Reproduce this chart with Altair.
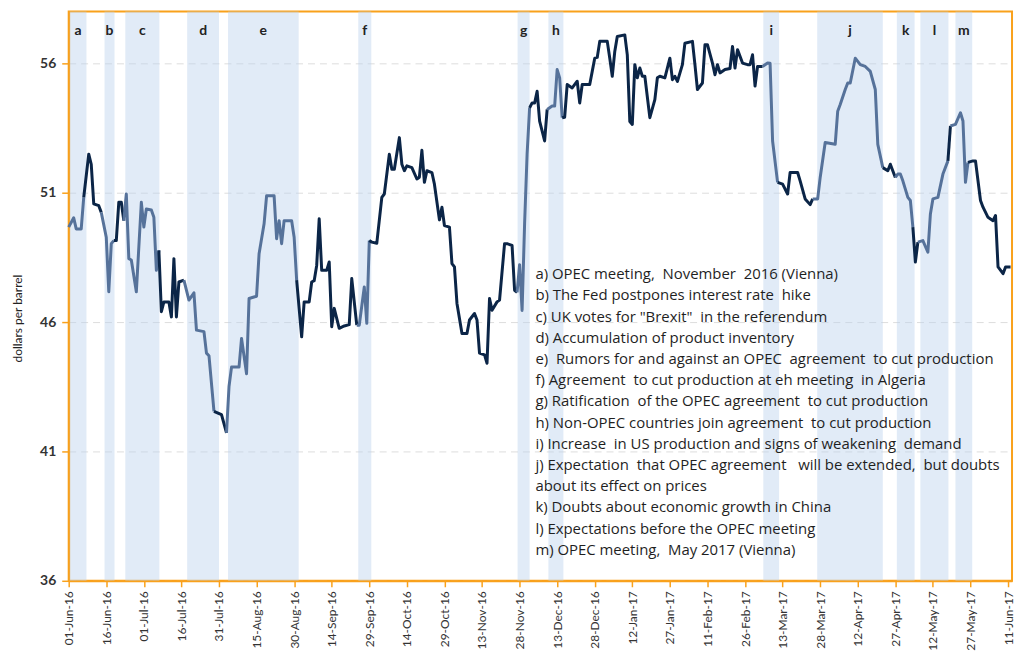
import altair as alt
import pandas as pd

START = pd.Timestamp("2016-06-01")

# Oil price: days after 01-Jun-16 and dollars per barrel
DAYS = [0, 2, 3, 5, 6, 8, 9, 10, 12, 13, 15, 16, 17, 18, 19, 20, 21, 22, 23, 24, 25, 27, 29, 30, 31, 33, 34, 35, 36, 37,
        38, 40, 41, 42, 43, 44, 46, 48, 50, 51, 54, 55, 56, 58, 61, 63, 64, 65, 68, 69, 71, 72, 75, 76, 78, 79, 82, 83, 84, 85,
        86, 89, 90, 91, 93, 94, 96, 97, 98, 99, 100, 101, 103, 104, 105, 106, 108, 110, 112, 113, 115, 116, 118, 119, 120, 121, 123, 125, 126, 128,
        129, 130, 132, 133, 134, 135, 137, 139, 140, 141, 142, 143, 145, 146, 148, 149, 150, 152, 153, 154, 155, 157, 159, 160, 162, 163, 164, 166, 167, 168,
        169, 171, 172, 174, 175, 177, 178, 179, 180, 181, 182, 183, 184, 185, 186, 187, 188, 190, 191, 193, 194, 195, 196, 197, 198, 199, 201, 203, 204, 205,
        208, 209, 210, 211, 212, 215, 216, 217, 218, 219, 222, 223, 224, 225, 226, 227, 228, 229, 230, 232, 234, 235, 236, 238, 240, 241, 242, 243, 245, 246,
        249, 250, 251, 253, 254, 255, 257, 258, 259, 260, 262, 264, 265, 266, 267, 269, 271, 272, 273, 274, 275, 277, 279, 280, 281, 283, 285, 287, 288, 291,
        292, 294, 296, 297, 299, 300, 302, 306, 307, 308, 310, 311, 312, 314, 316, 318, 320, 322, 323, 325, 327, 328, 330, 331, 332, 333, 335, 336, 337, 338,
        339, 341, 343, 344, 345, 347, 349, 351, 352, 354, 356, 357, 358, 359, 361, 362, 364, 365, 367, 369, 370, 371, 373, 374, 376]
PRICES = [49.67, 50.03, 49.6, 49.6, 50.82, 52.49, 52.1, 50.57, 50.5, 50.24, 49.28, 47.17, 49.03, 49.15, 49.15, 50.63, 50.63, 49.92, 50.95, 48.45, 48.4, 47.17, 50.63, 49.67, 50.37, 50.33, 50.05, 48.0, 48.77, 46.4,
          46.78, 46.78, 46.2, 48.45, 46.2, 47.55, 47.62, 46.85, 47.13, 45.69, 45.63, 44.8, 44.7, 42.55, 42.42, 41.72, 43.51, 44.26, 44.26, 45.37, 44.0, 46.91, 47.0, 48.64, 49.8, 50.88, 50.88, 49.22, 49.92, 49.03,
          49.92, 49.92, 49.28, 47.62, 45.43, 46.78, 46.78, 47.55, 47.6, 48.19, 49.99, 48.0, 48.0, 48.32, 45.82, 46.53, 45.76, 45.85, 45.9, 47.68, 45.88, 45.88, 47.36, 45.95, 49.15, 49.09, 49.05, 50.82, 50.95, 52.49,
          51.91, 51.91, 53.13, 52.1, 51.85, 52.04, 51.97, 51.53, 51.6, 52.64, 51.4, 51.85, 51.78, 51.33, 49.95, 50.44, 49.73, 49.67, 48.26, 48.13, 46.72, 45.56, 45.56, 46.08, 46.33, 46.08, 44.8, 44.73, 44.41, 46.91,
          46.46, 46.78, 46.85, 49.03, 49.03, 48.96, 47.23, 47.15, 48.22, 46.45, 49.8, 52.49, 54.28, 54.47, 54.47, 54.92, 53.77, 53.0, 54.22, 54.35, 54.35, 55.76, 55.44, 53.9, 53.92, 55.18, 55.05, 55.31, 54.47, 55.18,
          55.18, 55.69, 56.2, 56.23, 56.85, 56.85, 56.2, 55.5, 56.46, 57.04, 57.1, 56.33, 53.75, 53.64, 55.95, 55.44, 55.82, 55.5, 55.5, 53.9, 54.6, 55.44, 55.5, 55.44, 56.2, 55.37, 55.5, 55.3, 55.95, 56.78,
          56.85, 55.95, 54.99, 55.24, 56.72, 56.72, 56.01, 55.56, 55.95, 55.63, 55.76, 55.8, 56.65, 55.82, 56.53, 56.01, 55.95, 55.95, 56.33, 55.12, 55.88, 55.88, 56.01, 56.0, 53.0, 51.4, 51.33, 50.95, 51.78, 51.78,
          51.46, 50.76, 50.54, 50.76, 50.76, 51.59, 52.94, 52.87, 54.15, 54.41, 54.99, 55.24, 55.24, 56.2, 55.95, 55.88, 55.69, 54.99, 52.87, 51.97, 51.85, 52.1, 51.59, 51.72, 51.72, 51.46, 50.82, 50.7, 49.67, 48.32,
          49.09, 49.15, 48.7, 50.18, 50.76, 50.82, 51.72, 52.23, 53.58, 53.64, 54.09, 53.77, 51.4, 52.17, 52.23, 52.23, 50.7, 50.44, 50.05, 49.92, 50.12, 48.13, 47.87, 48.13, 48.13]

# Event windows (days after 01-Jun-16)
BAND_LABELS = ["a", "b", "c", "d", "e", "f", "g", "h", "i", "j", "k", "l", "m"]
BAND_START = [0.4, 14.3, 22.6, 47.3, 63.6, 115.6, 179.2, 191.5, 277.3, 298.8, 330.6, 340.0, 354.0]
BAND_END = [7.1, 18.3, 36.2, 60.0, 91.8, 120.8, 184.0, 197.5, 283.6, 325.0, 337.7, 351.2, 360.7]

LEGEND_LINES = [
    "a) OPEC meeting,  November  2016 (Vienna)",
    "b) The Fed postpones interest rate  hike",
    "c) UK votes for \"Brexit\"  in the referendum",
    "d) Accumulation of product inventory",
    "e)  Rumors for and against an OPEC  agreement  to cut production",
    "f) Agreement  to cut production at eh meeting  in Algeria",
    "g) Ratification  of the OPEC agreement  to cut production",
    "h) Non-OPEC countries join agreement  to cut production",
    "i) Increase  in US production and signs of weakening  demand",
    "j) Expectation  that OPEC agreement   will be extended,  but doubts",
    "about its effect on prices",
    "k) Doubts about economic growth in China",
    "l) Expectations before the OPEC meeting",
    "m) OPEC meeting,  May 2017 (Vienna)",
]

TICK_DATES = ["2016-06-01", "2016-06-16", "2016-07-01", "2016-07-16", "2016-07-31", "2016-08-15", "2016-08-30",
              "2016-09-14", "2016-09-29", "2016-10-14", "2016-10-29", "2016-11-13", "2016-11-28", "2016-12-13",
              "2016-12-28", "2017-01-12", "2017-01-27", "2017-02-11", "2017-02-26", "2017-03-13", "2017-03-28",
              "2017-04-12", "2017-04-27", "2017-05-12", "2017-05-27", "2017-06-11"]

DARK = "#0b2547"
LIGHT = "#56729a"
ORANGE = "#f9a11b"


def to_ts(d):
    return START + pd.to_timedelta(d, unit="D")


def in_band(d):
    return any(s <= d <= e for s, e in zip(BAND_START, BAND_END))


rows = []
seg = 0
prev = None
for d, v in zip(DAYS, PRICES):
    k = "event" if in_band(d) else "normal"
    if prev is not None and k != prev[2]:
        seg += 1
        rows.append({"date": to_ts(prev[0]), "price": prev[1], "kind": k, "seg": seg})
    rows.append({"date": to_ts(d), "price": v, "kind": k, "seg": seg})
    prev = (d, v, k)
line_df = pd.DataFrame(rows)

band_df = pd.DataFrame({
    "label": BAND_LABELS,
    "start": [to_ts(s) for s in BAND_START],
    "end": [to_ts(e) for e in BAND_END],
    "mid": [to_ts((s + e) / 2) for s, e in zip(BAND_START, BAND_END)],
})

# doubled spaces kept visible with no-break spaces (SVG collapses plain runs of spaces)
legend_df = pd.DataFrame({"txt": ["\n".join(s.replace("  ", " \u00a0") for s in LEGEND_LINES)]})


def dt(s):
    t = pd.Timestamp(s)
    return alt.DateTime(year=t.year, month=t.month, date=t.day, hours=t.hour)


xscale = alt.Scale(domain=[dt("2016-06-01"), dt("2017-06-12 14:00")])
yscale = alt.Scale(domain=[36, 58], nice=False, zero=False)

xaxis = alt.Axis(values=[dt(s) for s in TICK_DATES], tickCount=60, format="%d-%b-%y", labelAngle=270,
                 labelAlign="right", labelBaseline="middle", labelFontSize=12, labelColor="#333333",
                 labelFont="Lato", tickSize=6, labelPadding=4, grid=False, title=None, labelOverlap=False)
yaxis = alt.Axis(values=[36, 41, 46, 51, 56], grid=True, gridDash=[7, 5], gridColor="#dddddd",
                 tickSize=7, labelFontSize=14, labelFontWeight="bold", labelColor="#333333", labelFont="Lato",
                 labelPadding=6, title="dollars per barrel", titleFontSize=12, titleFontWeight="normal",
                 titleColor="#222222", titleFont="Lato", titleX=-51, titleY=308, titleAngle=270,
                 titleBaseline="middle", titleAlign="center")

bands = alt.Chart(band_df).mark_rect(color="#bcd2ee", opacity=0.45).encode(
    x=alt.X("start:T", scale=xscale, axis=xaxis),
    x2="end:T",
    y=alt.datum(36, type="quantitative", scale=yscale, axis=yaxis),
    y2=alt.datum(58),
)

band_text = alt.Chart(band_df).mark_text(fontSize=14, fontWeight="bold", color="#222222", font="Lato",
                                         baseline="middle").encode(
    x="mid:T",
    y=alt.value(19),
    text="label:N",
)

line = alt.Chart(line_df).mark_line(strokeWidth=3, strokeJoin="round").encode(
    x=alt.X("date:T"),
    y=alt.Y("price:Q"),
    color=alt.Color("kind:N", scale=alt.Scale(domain=["normal", "event"], range=[DARK, LIGHT]), legend=None),
    detail="seg:N",
)

legend_text = alt.Chart(legend_df).mark_text(align="left", baseline="top", lineBreak="\n", lineHeight=21.3,
                                             fontSize=15, font="Open Sans", color="#1f1f1f").encode(
    x=alt.value(469),
    y=alt.value(257),
    text="txt:N",
)

chart = alt.layer(bands, band_text, line, legend_text).properties(
    width=948, height=572,
    padding={"left": 61, "top": 2, "right": 4, "bottom": 84},
    autosize=alt.AutoSizeParams(type="none"),
).configure_view(stroke=ORANGE, strokeWidth=2).configure_axis(
    domainColor=ORANGE, tickColor=ORANGE, domainWidth=2, tickWidth=1.5
)

chart.save("out.html", embed_options={"renderer": "svg", "actions": False})
